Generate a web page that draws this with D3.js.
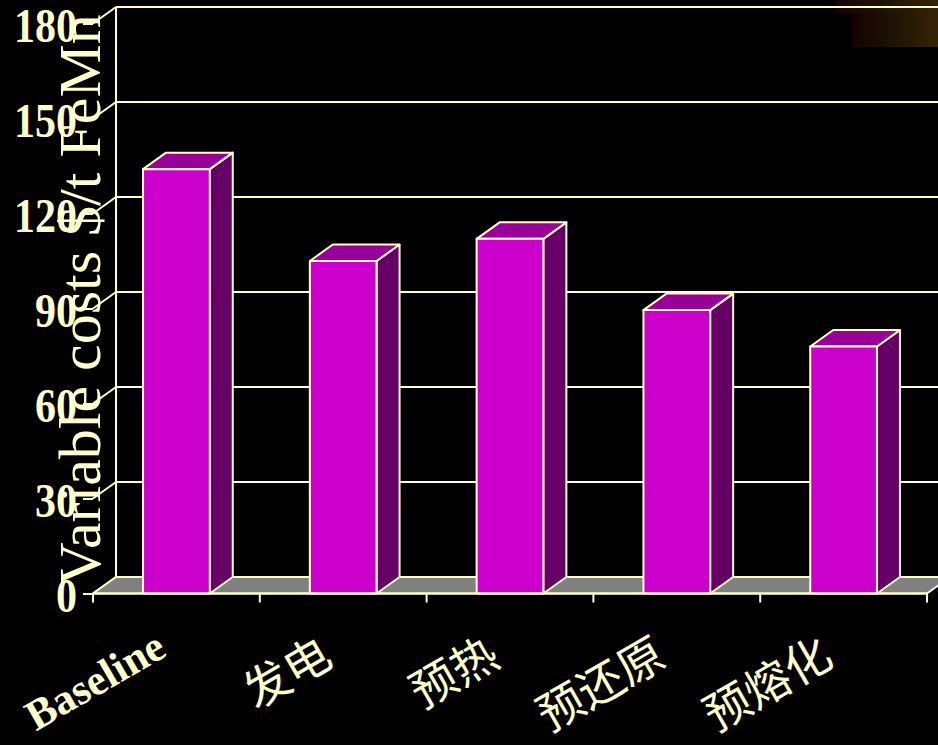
<!DOCTYPE html>
<html>
<head>
<meta charset="utf-8">
<script src="https://cdn.jsdelivr.net/npm/d3@7/dist/d3.min.js"></script>
<style>
  html, body { margin: 0; padding: 0; background: #000; }
  svg { display: block; }
</style>
</head>
<body>
<svg id="chart" width="938" height="745"></svg>
<script>
// Variable costs per tonne of FeMn for each process option
const categories = ["Baseline", "发电", "预热", "预还原", "预熔化"];
const costs = [134, 105, 112, 89.5, 78];
const yTicks = [0, 30, 60, 90, 120, 150, 180];
const yTitle = "Variable costs $/t FeMn";

const W = 938, H = 745;
const cream = "#FFFFCC";
const faceFront = "#CC00CC", faceTop = "#990099", faceSide = "#660066";
const floorFill = "#808080";

// 3-D depth offset between the front plane and the back wall
const DX = 23, DY = -16.5;
const front0 = 593.5;

const svg = d3.select("#chart");

const x = d3.scaleBand().domain(categories).range([93, 927])
  .paddingInner(0.6).paddingOuter(0.3);
const xEdge = d3.scaleLinear().domain([0, categories.length]).range([93, 927]);
const y = d3.scaleLinear().domain([0, 180]).range([front0, front0 - 570]);

// faint brown patch in the top-right corner
const defs = svg.append("defs");
const grad = defs.append("linearGradient").attr("id", "corner")
  .attr("x1", "0").attr("x2", "1").attr("y1", "0").attr("y2", "0");
grad.append("stop").attr("offset", "0").attr("stop-color", "#160202");
grad.append("stop").attr("offset", "0.5").attr("stop-color", "#1e1404");
grad.append("stop").attr("offset", "1").attr("stop-color", "#382206");
svg.append("rect").attr("x", 836).attr("y", 0).attr("width", 102).attr("height", 13)
  .attr("fill", "url(#corner)");
svg.append("rect").attr("x", 852).attr("y", 13).attr("width", 86).attr("height", 34)
  .attr("fill", "url(#corner)");

const walls = svg.append("g").attr("stroke", cream).attr("stroke-width", 2).attr("fill", "none");

// back-wall gridlines
walls.selectAll("line.grid").data(yTicks.filter(d => d > 0)).join("line")
  .attr("class", "grid")
  .attr("x1", xEdge(0) + DX).attr("x2", xEdge(categories.length) + DX)
  .attr("y1", d => y(d) + DY).attr("y2", d => y(d) + DY);

// side-wall diagonals from the front ticks to the back wall
walls.selectAll("line.side").data(yTicks).join("line")
  .attr("class", "side")
  .attr("x1", xEdge(0)).attr("x2", xEdge(0) + DX)
  .attr("y1", d => y(d)).attr("y2", d => y(d) + DY);

// back-wall left edge
walls.append("line")
  .attr("x1", xEdge(0) + DX).attr("x2", xEdge(0) + DX)
  .attr("y1", y(180) + DY).attr("y2", y(0) + DY);

// floor
const x0 = xEdge(0), x1 = xEdge(categories.length), f0 = y(0);
svg.append("path")
  .attr("d", `M${x0},${f0}L${x1},${f0}L${x1 + DX},${f0 + DY}L${x0 + DX},${f0 + DY}Z`)
  .attr("fill", floorFill).attr("stroke", cream).attr("stroke-width", 2)
  .attr("stroke-linejoin", "round");

// bars as boxes spanning the full depth
const bars = svg.append("g").attr("stroke", cream).attr("stroke-width", 2)
  .attr("stroke-linejoin", "round");
const data = categories.map((c, i) => ({ c, v: costs[i] }));
const bar = bars.selectAll("g").data(data).join("g");
bar.append("path").attr("fill", faceSide).attr("d", d => {
  const r = x(d.c) + x.bandwidth(), t = y(d.v), b = y(0);
  return `M${r},${b}L${r},${t}L${r + DX},${t + DY}L${r + DX},${b + DY}Z`;
});
bar.append("path").attr("fill", faceTop).attr("d", d => {
  const l = x(d.c), r = l + x.bandwidth(), t = y(d.v);
  return `M${l},${t}L${r},${t}L${r + DX},${t + DY}L${l + DX},${t + DY}Z`;
});
bar.append("rect").attr("fill", faceFront)
  .attr("x", d => x(d.c)).attr("width", x.bandwidth())
  .attr("y", d => y(d.v)).attr("height", d => y(0) - y(d.v));

// category axis line and ticks at band boundaries
const xa = svg.append("g").attr("stroke", cream).attr("stroke-width", 2);
xa.append("line").attr("x1", x0).attr("x2", x1).attr("y1", f0).attr("y2", f0);
xa.selectAll("line.tick").data(d3.range(categories.length + 1)).join("line")
  .attr("class", "tick")
  .attr("x1", d => xEdge(d)).attr("x2", d => xEdge(d))
  .attr("y1", f0).attr("y2", f0 + 9);

// value axis
const yAxis = svg.append("g").attr("transform", `translate(${x0},0)`)
  .call(d3.axisLeft(y).tickValues(yTicks).tickSize(10).tickPadding(6));
yAxis.select(".domain").remove();
yAxis.selectAll(".tick line").attr("stroke", cream).attr("stroke-width", 2);
yAxis.selectAll(".tick text")
  .attr("fill", cream)
  .attr("font-family", "'Liberation Serif', 'Times New Roman', serif")
  .attr("font-weight", "bold")
  .attr("font-size", 42)
  .attr("dy", "0.38em")
  .attr("transform", "scale(1,1.14)");

// category labels
const isLatin = d => /^[A-Za-z]/.test(d);
svg.append("g").selectAll("text").data(categories).join("text")
  .attr("transform", d => `translate(${x(d) + x.bandwidth() / 2 - 8},${isLatin(d) ? 655 : 664}) rotate(-30)`)
  .attr("text-anchor", "end")
  .attr("fill", cream)
  .attr("font-family", d => isLatin(d)
    ? "'Liberation Serif', 'Times New Roman', serif"
    : "'Noto Sans CJK SC', sans-serif")
  .attr("font-weight", d => isLatin(d) ? "bold" : "normal")
  .attr("font-size", d => isLatin(d) ? 43 : 46)
  .text(d => d);

// value axis title
svg.append("text")
  .attr("transform", "translate(100,300) rotate(-90)")
  .attr("text-anchor", "middle")
  .attr("fill", cream)
  .attr("font-family", "'Liberation Serif', 'Times New Roman', serif")
  .attr("font-size", 60)
  .text(yTitle);
</script>
</body>
</html>
